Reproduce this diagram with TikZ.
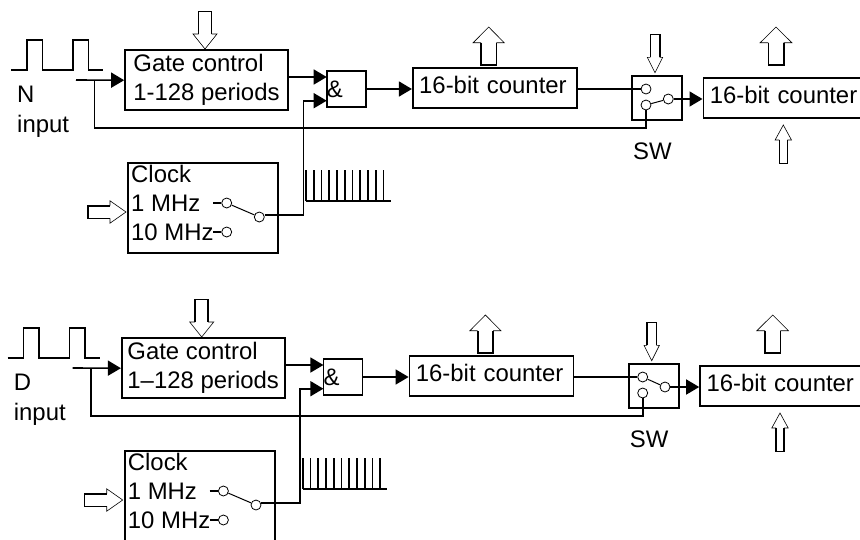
\documentclass[tikz,border=0pt]{standalone}
\usepackage{fontspec}
\setmainfont{Liberation Sans}
\usetikzlibrary{arrows.meta}
\tikzset{
	blockbox/.style={shape=rectangle, draw, line width=1.6pt, inner sep=0pt, align=left},
	countbox/.style={blockbox, minimum height=40pt, text height=17.4pt, text depth=6.6pt},
	contact/.style={shape=circle, draw, line width=0.8pt, fill=white, minimum size=10pt, inner sep=0pt},
	wire/.style={line width=1.6pt},
	flow/.style={wire, -{Triangle[length=13pt, width=15pt]}},
	label/.style={inner sep=0pt, align=left}
}
% hollow arrow: tip, angle, length, half shaft, half head, head length
\newcommand{\blockarrow}[6]{
	\begin{scope}[shift={#1}, rotate=#2]
		\draw[line width=0.6pt] (-#6, #4) -- (-#6, #5) -- (0, 0) -- (-#6, -#5) -- (-#6, -#4);
		\draw[wire] (-#6, #4) -- (-#3, #4) -- (-#3, -#4) -- (-#6, -#4);
	\end{scope}
}
\begin{document}
\begin{tikzpicture}[x=1pt, y=-1pt, font=\fontsize{23.9}{29}\selectfont]
	\path[use as bounding box, clip] (0, 0) rectangle (860, 539);
	\foreach \tag/\dx/\dy/\inp/\rng/\swfrom in {n/0/0/N/1-128 periods/swb, d/-3.3/288/D/1–128 periods/swa}{
		\begin{scope}[shift={(\dx, \dy)}, name prefix=\tag]
			% Blocks:
			\node[blockbox, minimum width=163pt, minimum height=60pt] (gate) at (206.5, 80.2) {Gate control\\\rng};
			\node[blockbox, minimum width=39pt, minimum height=36pt, text width=39pt] (andg) at (346.3, 89) {\&};
			\node[countbox, minimum width=164pt, text width=151pt] (cnta) at (494.7, 88) {16-bit counter};
			\node[blockbox, minimum width=50pt, minimum height=44pt] (swbox) at (657, 98) {};
			\node[countbox, minimum width=170pt, text width=157pt] (cntb) at (788.3, 97.7) {16-bit counter};
			\node[blockbox, minimum width=150pt, minimum height=90pt] (clock) at (203, 208) {};
			\node[label, anchor=north west] (clocktxt) at (131, 164.5) {Clock\\1 MHz\\10 MHz};
			\node[label, anchor=base west] (inname) at (17, 102.7) {\inp};
			\node[label, anchor=base west] (intxt) at (17, 132.7) {input};
			\node[label, anchor=base west] (swtxt) at (633, 159) {SW};
			% Switch contacts:
			\node[contact] (swa) at (646, 89) {};
			\node[contact] (swb) at (646, 105) {};
			\node[contact] (swo) at (668.3, 99) {};
			\node[contact] (clka) at (226.7, 203) {};
			\node[contact] (clkb) at (226.7, 232) {};
			\node[contact] (clko) at (259.3, 217) {};
			% Free ends:
			\coordinate (inl) at (76, 80);
			\coordinate (brn) at (94.3, 80);
			\coordinate (bcorner) at (94.3, 127.7);
			\coordinate (andina) at (326.7, 77);
			\coordinate (andinb) at (326.7, 100.7);
			\coordinate (clkout) at (303.3, 215);
			\coordinate (stuba) at (213, 203);
			\coordinate (stubb) at (213, 232);
			% Wires:
			\draw[flow] (inl) -- (gate.west);
			\draw[wire] (brn) -- (bcorner) -| (swb.south);
			\draw[flow] (andina -| gate.east) -- (andina);
			\draw[flow] (clkout -| clko.east) -- (clkout) |- (andinb);
			\draw[flow] (andg.east) -- (andg.east -| cnta.west);
			\draw[wire] (swa.west -| cnta.east) -- (swa.west);
			\draw[flow] (swo.east) -- (swo.east -| cntb.west);
			\draw[wire] (stuba) -- (clka.west);
			\draw[wire] (stubb) -- (clkb.west);
			\draw[line width=1pt] (\tag\swfrom) -- (swo);
			\draw[line width=1pt] (clka) -- (clko);
			% Waveforms:
			\draw[wire] (11, 70) -- (26.7, 70) -- (26.7, 40) -- (42.3, 40) -- (42.3, 70) -- (72.7, 70) -- (72.7, 40) -- (88.3, 40) -- (88.3, 70) -- (103, 70);
			\draw[wire] (306, 201) -- (390.7, 201);
			\foreach \i in {0,...,10}{
				\draw[wire] (306 + 7.75*\i, 201) -- (306 + 7.75*\i, 170);
			}
			% Hollow arrows:
			\blockarrow{(205, 49)}{-90}{37.5}{6.5}{12}{15}
			\blockarrow{(488.7, 27)}{90}{38}{7.7}{15.5}{15.7}
			\blockarrow{(655, 72.7)}{-90}{38.4}{4.7}{7.7}{15.4}
			\blockarrow{(776, 27)}{90}{38}{7.7}{15.8}{15.7}
			\blockarrow{(783.3, 125)}{90}{38.3}{4}{8.2}{15}
			\blockarrow{(126, 212)}{0}{38.3}{6.3}{11.2}{16}
		\end{scope}
	}
\end{tikzpicture}
\end{document}
